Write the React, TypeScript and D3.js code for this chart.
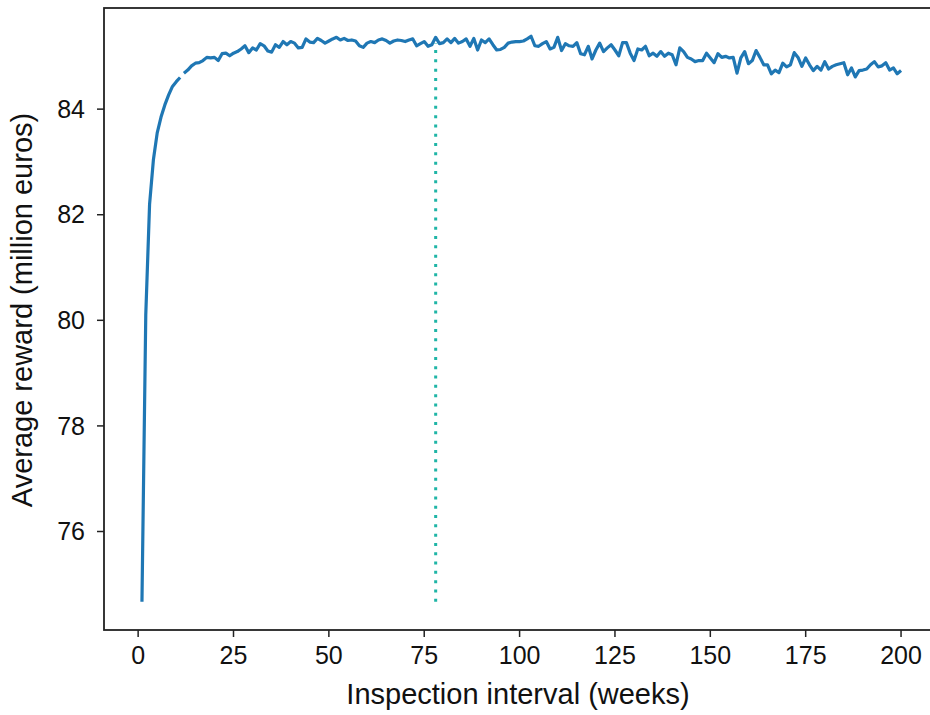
import React from 'react';
import * as d3 from 'd3';

// average reward per inspection interval, weeks 1..200
const avgReward: number[] = [
  74.67, 80.1, 82.2, 83.04, 83.55, 83.85, 84.08, 84.27, 84.43, 84.52,
  84.6, 84.68, 84.74, 84.82, 84.87, 84.88, 84.92, 84.98, 84.97, 84.98,
  84.92, 85.05, 85.06, 85.01, 85.06, 85.09, 85.14, 85.2, 85.07, 85.16,
  85.12, 85.24, 85.2, 85.1, 85.08, 85.22, 85.17, 85.28, 85.22, 85.28,
  85.25, 85.16, 85.17, 85.33, 85.27, 85.26, 85.34, 85.3, 85.25, 85.29,
  85.33, 85.36, 85.31, 85.34, 85.3, 85.31, 85.29, 85.2, 85.17, 85.25,
  85.28, 85.26, 85.31, 85.33, 85.3, 85.25, 85.29, 85.31, 85.3, 85.28,
  85.31, 85.33, 85.2, 85.24, 85.28, 85.19, 85.22, 85.36, 85.24, 85.26,
  85.33, 85.26, 85.34, 85.25, 85.28, 85.33, 85.19, 85.34, 85.12, 85.31,
  85.26, 85.33, 85.22, 85.12, 85.13, 85.17, 85.25, 85.27, 85.28, 85.28,
  85.29, 85.33, 85.38, 85.2, 85.19, 85.24, 85.28, 85.14, 85.17, 85.36,
  85.11, 85.24, 85.2, 85.19, 85.26, 85.05, 85.03, 85.19, 84.95, 85.12,
  85.25, 85.09, 85.16, 85.22, 85.12, 85.01, 85.26, 85.26, 85.06, 84.92,
  85.14, 85.12, 85.19, 85.01, 85.06, 85.0, 85.09, 85.0, 85.06, 85.03,
  84.84, 85.16, 85.09, 84.98, 84.95, 84.9, 84.92, 84.92, 85.06, 84.97,
  84.88, 85.05, 84.98, 85.0, 84.97, 84.98, 84.68, 84.97, 85.09, 84.86,
  84.92, 85.11, 84.98, 84.84, 84.84, 84.67, 84.74, 84.69, 84.87, 84.8,
  84.84, 85.07, 84.98, 84.81, 84.97, 84.84, 84.73, 84.81, 84.74, 84.9,
  84.76, 84.81, 84.84, 84.86, 84.88, 84.65, 84.78, 84.61, 84.73, 84.74,
  84.76, 84.84, 84.9, 84.8, 84.82, 84.88, 84.74, 84.78, 84.67, 84.73,
];
const weeks: number[] = d3.range(1, avgReward.length + 1);

// the drawn line has a small break after week 11
const breakAfter = 11;

// dotted marker at the chosen interval
const markerWeek = 78;
const markerTop = 85.25;

const xTicks = [0, 25, 50, 75, 100, 125, 150, 175, 200];
const yTicks = [76, 78, 80, 82, 84];

const xLabel = 'Inspection interval (weeks)';
const yLabel = 'Average reward (million euros)';

const W = 930;
const H = 715;
const margin = { left: 104, top: 8, right: -9, bottom: 85 };
const font = '"Liberation Sans", Arial, sans-serif';

export default function App() {
  const innerW = W - margin.left - margin.right;
  const innerH = H - margin.top - margin.bottom;

  // matplotlib style 5% padding around the data
  const xExt = d3.extent(weeks) as [number, number];
  const yExt = d3.extent(avgReward) as [number, number];
  const xPad = (xExt[1] - xExt[0]) * 0.05;
  const yPad = (yExt[1] - yExt[0]) * 0.05;

  const x = d3.scaleLinear().domain([xExt[0] - xPad, xExt[1] + xPad]).range([0, innerW]);
  const y = d3.scaleLinear().domain([yExt[0] - yPad, yExt[1] + yPad]).range([innerH, 0]);

  const pts = weeks.map((w, i) => [w, avgReward[i]] as [number, number]);
  const line = d3.line<[number, number]>().x(d => x(d[0])).y(d => y(d[1]));
  const seg1 = line(pts.slice(0, breakAfter)) || '';
  const seg2 = line(pts.slice(breakAfter)) || '';

  return (
    <svg width={W} height={H} style={{ position: 'absolute', left: 0, top: 0, background: '#fff' }}>
      <g transform={`translate(${margin.left},${margin.top})`}>
        <line x1={x(markerWeek)} x2={x(markerWeek)} y1={y(yExt[0])} y2={y(markerTop)}
          stroke="#1fb5a6" strokeWidth={3} strokeDasharray="3,6.3" />
        <path d={seg1} fill="none" stroke="#1f77b4" strokeWidth={3.2} strokeLinejoin="round" />
        <path d={seg2} fill="none" stroke="#1f77b4" strokeWidth={3.2} strokeLinejoin="round" />

        <rect x={0} y={0} width={innerW} height={innerH} fill="none" stroke="#222" strokeWidth={1.8} />

        {xTicks.map(t => (
          <g key={'x' + t} transform={`translate(${x(t)},${innerH})`}>
            <line y1={0} y2={7} stroke="#222" strokeWidth={1.5} />
            <text y={34} textAnchor="middle" fontFamily={font} fontSize={25} fill="#111">{t}</text>
          </g>
        ))}
        {yTicks.map(t => (
          <g key={'y' + t} transform={`translate(0,${y(t)})`}>
            <line x1={-7} x2={0} stroke="#222" strokeWidth={1.5} />
            <text x={-19} dy="0.35em" textAnchor="end" fontFamily={font} fontSize={25} fill="#111">{t}</text>
          </g>
        ))}
      </g>

      <text x={518} y={704} textAnchor="middle" fontFamily={font} fontSize={29} fill="#111">{xLabel}</text>
      <text transform="translate(32,310) rotate(-90)" textAnchor="middle" fontFamily={font} fontSize={29} fill="#111">{yLabel}</text>
    </svg>
  );
}
